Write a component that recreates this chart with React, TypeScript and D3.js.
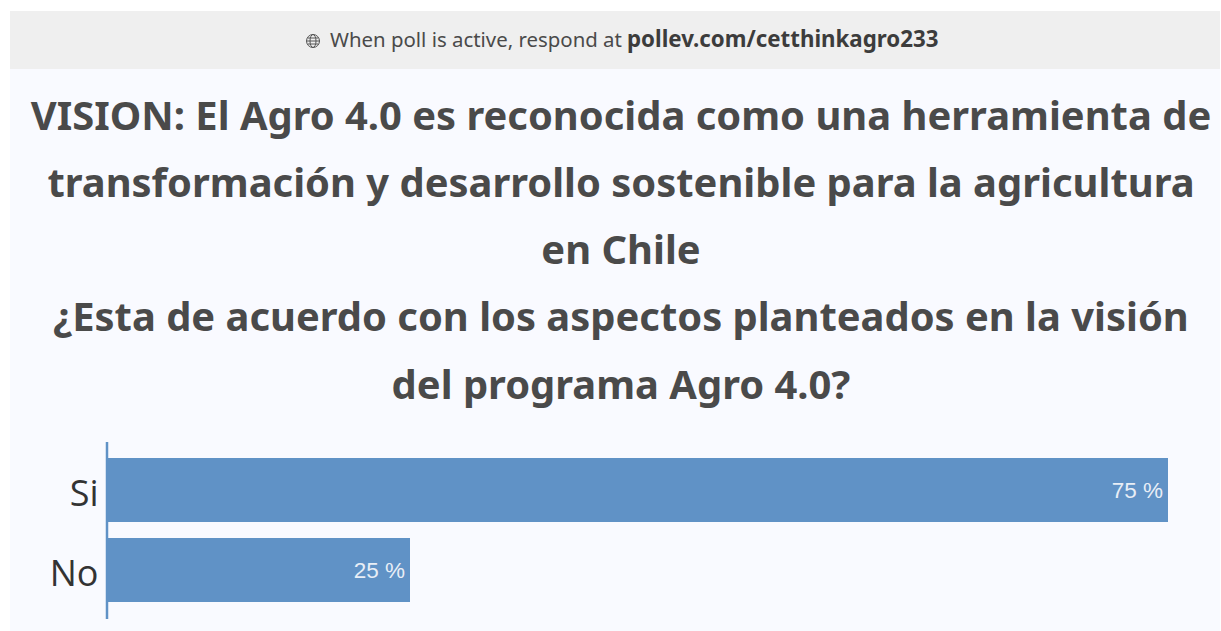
import React from "react";
import * as d3 from "d3";

const categories = ["Si", "No"];
const values = [75, 25];
const valueLabels = ["75 %", "25 %"];
const titleLines = [
  "VISION: El Agro 4.0 es reconocida como una herramienta de",
  "transformación y desarrollo sostenible para la agricultura",
  "en Chile",
  "¿Esta de acuerdo con los aspectos planteados en la visión",
  "del programa Agro 4.0?",
];
const titleY = [130, 197, 264, 331, 399];
// The reference's bars do not start at zero: 25 and 75 end where this truncated domain puts them.
const valueDomain = [5.08, 75];

export default function App() {
  const x = d3.scaleLinear().domain(valueDomain).range([108, 1168]);
  const y = d3.scaleBand().domain(categories).range([450, 610]).paddingInner(0.2).paddingOuter(0.1);
  return (
    <svg width={1221} height={631} style={{ position: "absolute", left: 0, top: 0 }}>
      <rect x={0} y={0} width={1221} height={631} fill="#ffffff" />
      <rect x={10} y={11} width={1210} height={620} fill="#f9faff" />
      <rect x={10} y={11} width={1210} height={58} fill="#efefef" />
      <g transform="translate(313,41)" fill="none" stroke="#555" strokeWidth={1}>
        <circle r={6.5} />
        <ellipse rx={3} ry={6.5} />
        <path d="M-6.5,0H6.5M-5.5,-3H5.5M-5.5,3H5.5" />
      </g>
      <text x={330} y={47} fontFamily="'Noto Sans', sans-serif" fontSize={20.4} fill="#4a4a4a">When poll is active, respond at</text>
      <text x={627} y={47} fontFamily="'Noto Sans', sans-serif" fontSize={22.3} fontWeight={700} fill="#3c3c3c">pollev.com/cetthinkagro233</text>
      {titleLines.map((t, i) => (
        <text key={i} x={621} y={titleY[i]} textAnchor="middle" fontFamily="'Noto Sans', sans-serif" fontWeight={700} fontSize={39.9} fill="#4a4a4a">{t}</text>
      ))}
      {categories.map((c, i) => (
        <g key={c}>
          <rect x={x.range()[0]} y={y(c)} width={x(values[i]) - x.range()[0]} height={y.bandwidth()} fill="#6092c6" />
          <text x={x(values[i]) - 5} y={y(c)! + y.bandwidth() / 2 + 8} textAnchor="end" fontFamily="'Liberation Sans', Arial, sans-serif" fontSize={22.5} fill="#e8eef6">{valueLabels[i]}</text>
          <text x={98.5} y={y(c)! + y.bandwidth() / 2 + 16} textAnchor="end" fontFamily="'Open Sans', sans-serif" fontWeight={400} fontSize={36} fill="#333333">{c}</text>
        </g>
      ))}
      <line x1={107} x2={107} y1={442} y2={619} stroke="#6092c6" strokeWidth={2.5} />
    </svg>
  );
}
